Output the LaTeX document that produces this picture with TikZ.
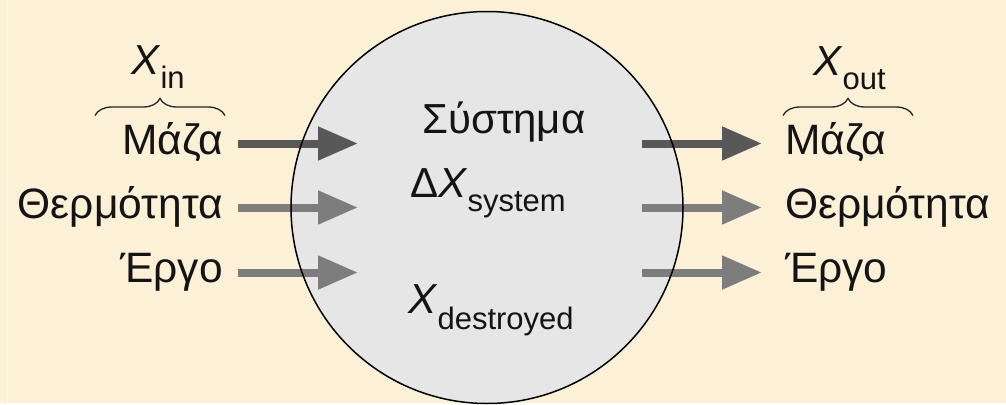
\documentclass[tikz,border=0pt]{standalone}
\usepackage{fontspec}
\setmainfont{Liberation Sans}
\usetikzlibrary{arrows.meta,decorations.pathreplacing}

\definecolor{paper}{RGB}{252,240,215}
\definecolor{sysgray}{RGB}{230,230,230}
\definecolor{flowdark}{RGB}{88,88,88}
\definecolor{flowlight}{RGB}{125,125,125}

% italic X with a lowered index
\newcommand{\Xidx}[2][14pt]{\textit{X}\raisebox{-#1}{\fontsize{31}{31}\selectfont #2}}

\begin{document}
\begin{tikzpicture}[x=1pt, y=-1pt,
	lbl/.style={font=\fontsize{42.5}{42.5}\selectfont, inner sep=0pt, text=black!92},
	big/.style={font=\fontsize{42}{42}\selectfont, inner sep=0pt, text=black!92},
	flow/.style={line width=8pt, -{Triangle[length=40pt,width=32pt]}},
	brc/.style={decorate, decoration={brace, amplitude=17pt}, line width=1.3pt, black!85}]

	\fill[paper] (0,0) rectangle (1006,402);
	\draw[white, line width=1pt] (7,0) -- (7,402);

	% the system
	\fill[sysgray] (487,207) circle (196pt);

	% flows in and out
	\foreach \y/\c [count=\i] in {143/flowdark, 207/flowlight, 272/flowlight} {
		\coordinate (in\i) at (238,\y);
		\coordinate (sysin\i) at (358,\y);
		\coordinate (sysout\i) at (642,\y);
		\coordinate (out\i) at (762,\y);
		\draw[flow, \c] (in\i) -- (sysin\i);
		\draw[flow, \c] (sysout\i) -- (out\i);
	}

	\draw[line width=1.5pt] (487,207) circle (196pt);

	\node[lbl, anchor=base east] (massin) at (223,154) {Μάζα};
	\node[lbl, anchor=base east] (heatin) at (223,218) {Θερμότητα};
	\node[lbl, anchor=base east] (workin) at (223,282) {Έργο};

	\node[lbl, anchor=base west] (massout) at (785,154) {Μάζα};
	\node[lbl, anchor=base west] (heatout) at (785,218) {Θερμότητα};
	\node[lbl, anchor=base west] (workout) at (785,282) {Έργο};

	\node[big, anchor=base west] (sysname) at (422,133) {Σύστημα};
	\node[big, anchor=base west] (dx) at (410,197) {Δ\Xidx{system}};
	\node[big, anchor=base west] (xd) at (408,313) {\Xidx[16pt]{destroyed}};

	% totals over the mass labels
	\draw[brc] (95,115) -- (225,115);
	\draw[brc] (783,115) -- (913,115);
	\node[big, anchor=base west] (xin) at (131,74) {\Xidx{in}};
	\node[big, anchor=base west] (xout) at (813,75) {\Xidx{out}};

\end{tikzpicture}
\end{document}
